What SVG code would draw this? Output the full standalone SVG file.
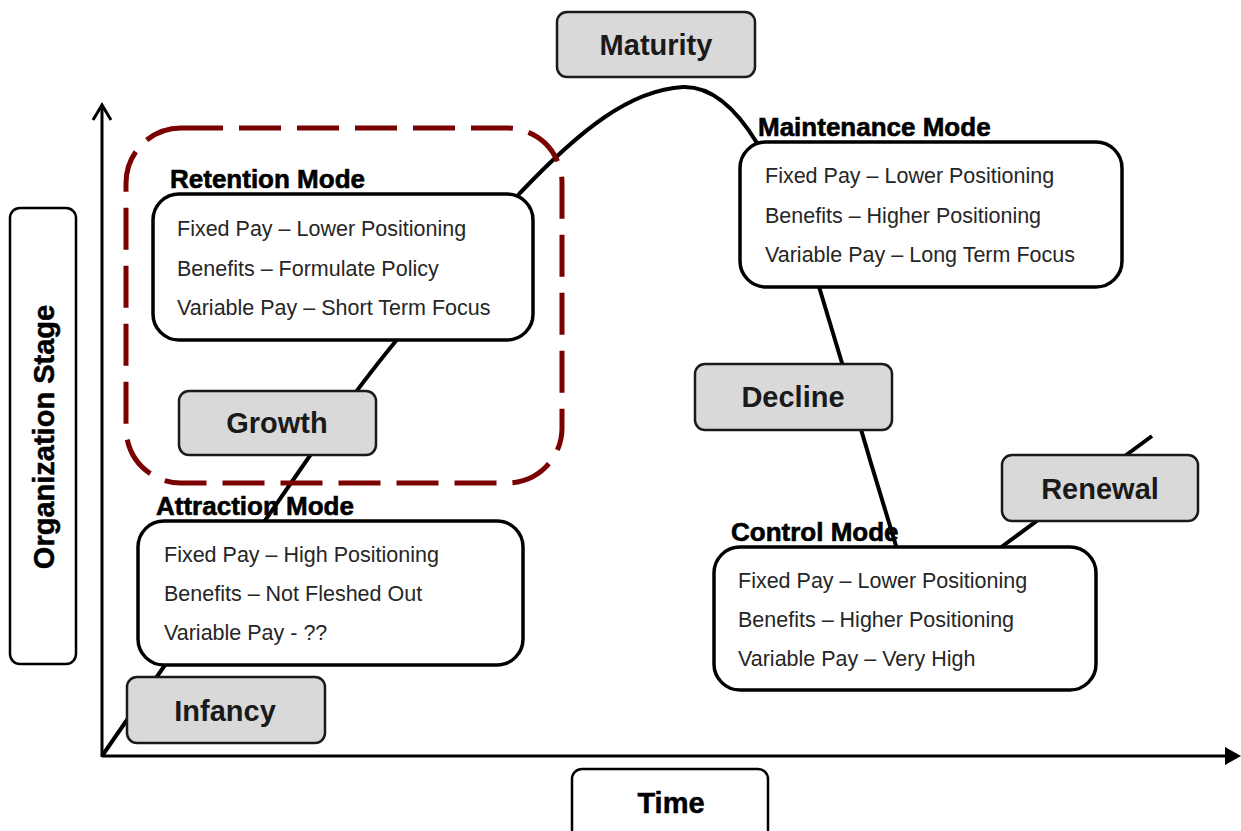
<svg xmlns="http://www.w3.org/2000/svg" width="1241" height="831" viewBox="0 0 1241 831">
<defs>
<style>
.stage rect{fill:#d9d9d9;stroke:#1a1a1a;stroke-width:2.5}
.stage text{font-family:"Liberation Sans",Arial,sans-serif;font-weight:bold;font-size:29px;fill:#1a1a1a;text-anchor:middle}
.mode rect{fill:#fff;stroke:#000;stroke-width:3.5}
.mode text{font-family:"Liberation Sans",Arial,sans-serif;font-size:21.5px;fill:#262626}
.mode text.hd{font-weight:bold;font-size:26px;fill:#000;stroke:#000;stroke-width:0.6}
.lbl rect{fill:#fff;stroke:#000;stroke-width:2.5}
.lbl text{font-family:"Liberation Sans",Arial,sans-serif;font-weight:bold;font-size:29px;fill:#000;stroke:#000;stroke-width:0.5;text-anchor:middle}
.axis{stroke:#000;stroke-width:3;fill:none}
.curve{stroke:#000;stroke-width:4;fill:none;stroke-linejoin:round}
</style>
</defs>
<rect width="1241" height="831" fill="#fff"/>

<g id="axes">
<line class="axis" x1="102" y1="757" x2="102" y2="106"/>
<polyline class="axis" points="93,120 102,105 111,120"/>
<line class="axis" x1="102" y1="756" x2="1228" y2="756"/>
<polygon points="1225,747 1241,756 1225,765" fill="#000"/>
</g>

<g id="connectors">
<path class="curve" d="M102,756 L300,470 C340,412 370,372 400,336 L520,193 C580,130 630,90 683,87 C715,86 740,115 757,143 C780,185 810,255 820,290 L842,363 C850,395 860,425 870,460 L897,549 L930,640 L1000,548 L1152,436"/>
</g>

<g id="retention-group">
<rect x="126" y="128" width="436" height="355" rx="55" fill="none" stroke="#7b0000" stroke-width="5" stroke-dasharray="42 16"/>
</g>

<g id="y-label" class="lbl">
<rect x="10" y="208" width="66" height="456" rx="10"/>
<text transform="translate(54,437) rotate(-90)">Organization Stage</text>
</g>

<g id="x-label" class="lbl">
<rect x="572" y="769" width="196" height="80" rx="10"/>
<text x="671" y="813">Time</text>
</g>

<g id="maturity" class="stage">
<rect x="557" y="12" width="198" height="65" rx="10"/>
<text x="656" y="55">Maturity</text>
</g>

<g id="growth" class="stage">
<rect x="179" y="391" width="197" height="64" rx="10"/>
<text x="277" y="433">Growth</text>
</g>

<g id="infancy" class="stage">
<rect x="127" y="677" width="198" height="66" rx="10"/>
<text x="225" y="721">Infancy</text>
</g>

<g id="decline" class="stage">
<rect x="695" y="364" width="197" height="66" rx="10"/>
<text x="793" y="407">Decline</text>
</g>

<g id="renewal" class="stage">
<rect x="1002" y="455" width="196" height="66" rx="10"/>
<text x="1100" y="499">Renewal</text>
</g>

<g id="retention-mode" class="mode">
<text class="hd" x="170" y="188">Retention Mode</text>
<rect x="153" y="194" width="380" height="146" rx="26"/>
<text x="177" y="236">Fixed Pay – Lower Positioning</text>
<text x="177" y="276">Benefits – Formulate Policy</text>
<text x="177" y="315">Variable Pay – Short Term Focus</text>
</g>

<g id="maintenance-mode" class="mode">
<text class="hd" x="758" y="136">Maintenance Mode</text>
<rect x="740" y="142" width="382" height="145" rx="26"/>
<text x="765" y="183">Fixed Pay – Lower Positioning</text>
<text x="765" y="223">Benefits – Higher Positioning</text>
<text x="765" y="262">Variable Pay – Long Term Focus</text>
</g>

<g id="attraction-mode" class="mode">
<text class="hd" x="156" y="515">Attraction Mode</text>
<rect x="138" y="521" width="385" height="144" rx="26"/>
<text x="164" y="562">Fixed Pay – High Positioning</text>
<text x="164" y="601">Benefits – Not Fleshed Out</text>
<text x="164" y="640">Variable Pay - ??</text>
</g>

<g id="control-mode" class="mode">
<text class="hd" x="731" y="541">Control Mode</text>
<rect x="714" y="547" width="382" height="143" rx="26"/>
<text x="738" y="588">Fixed Pay – Lower Positioning</text>
<text x="738" y="627">Benefits – Higher Positioning</text>
<text x="738" y="666">Variable Pay – Very High</text>
</g>
</svg>
